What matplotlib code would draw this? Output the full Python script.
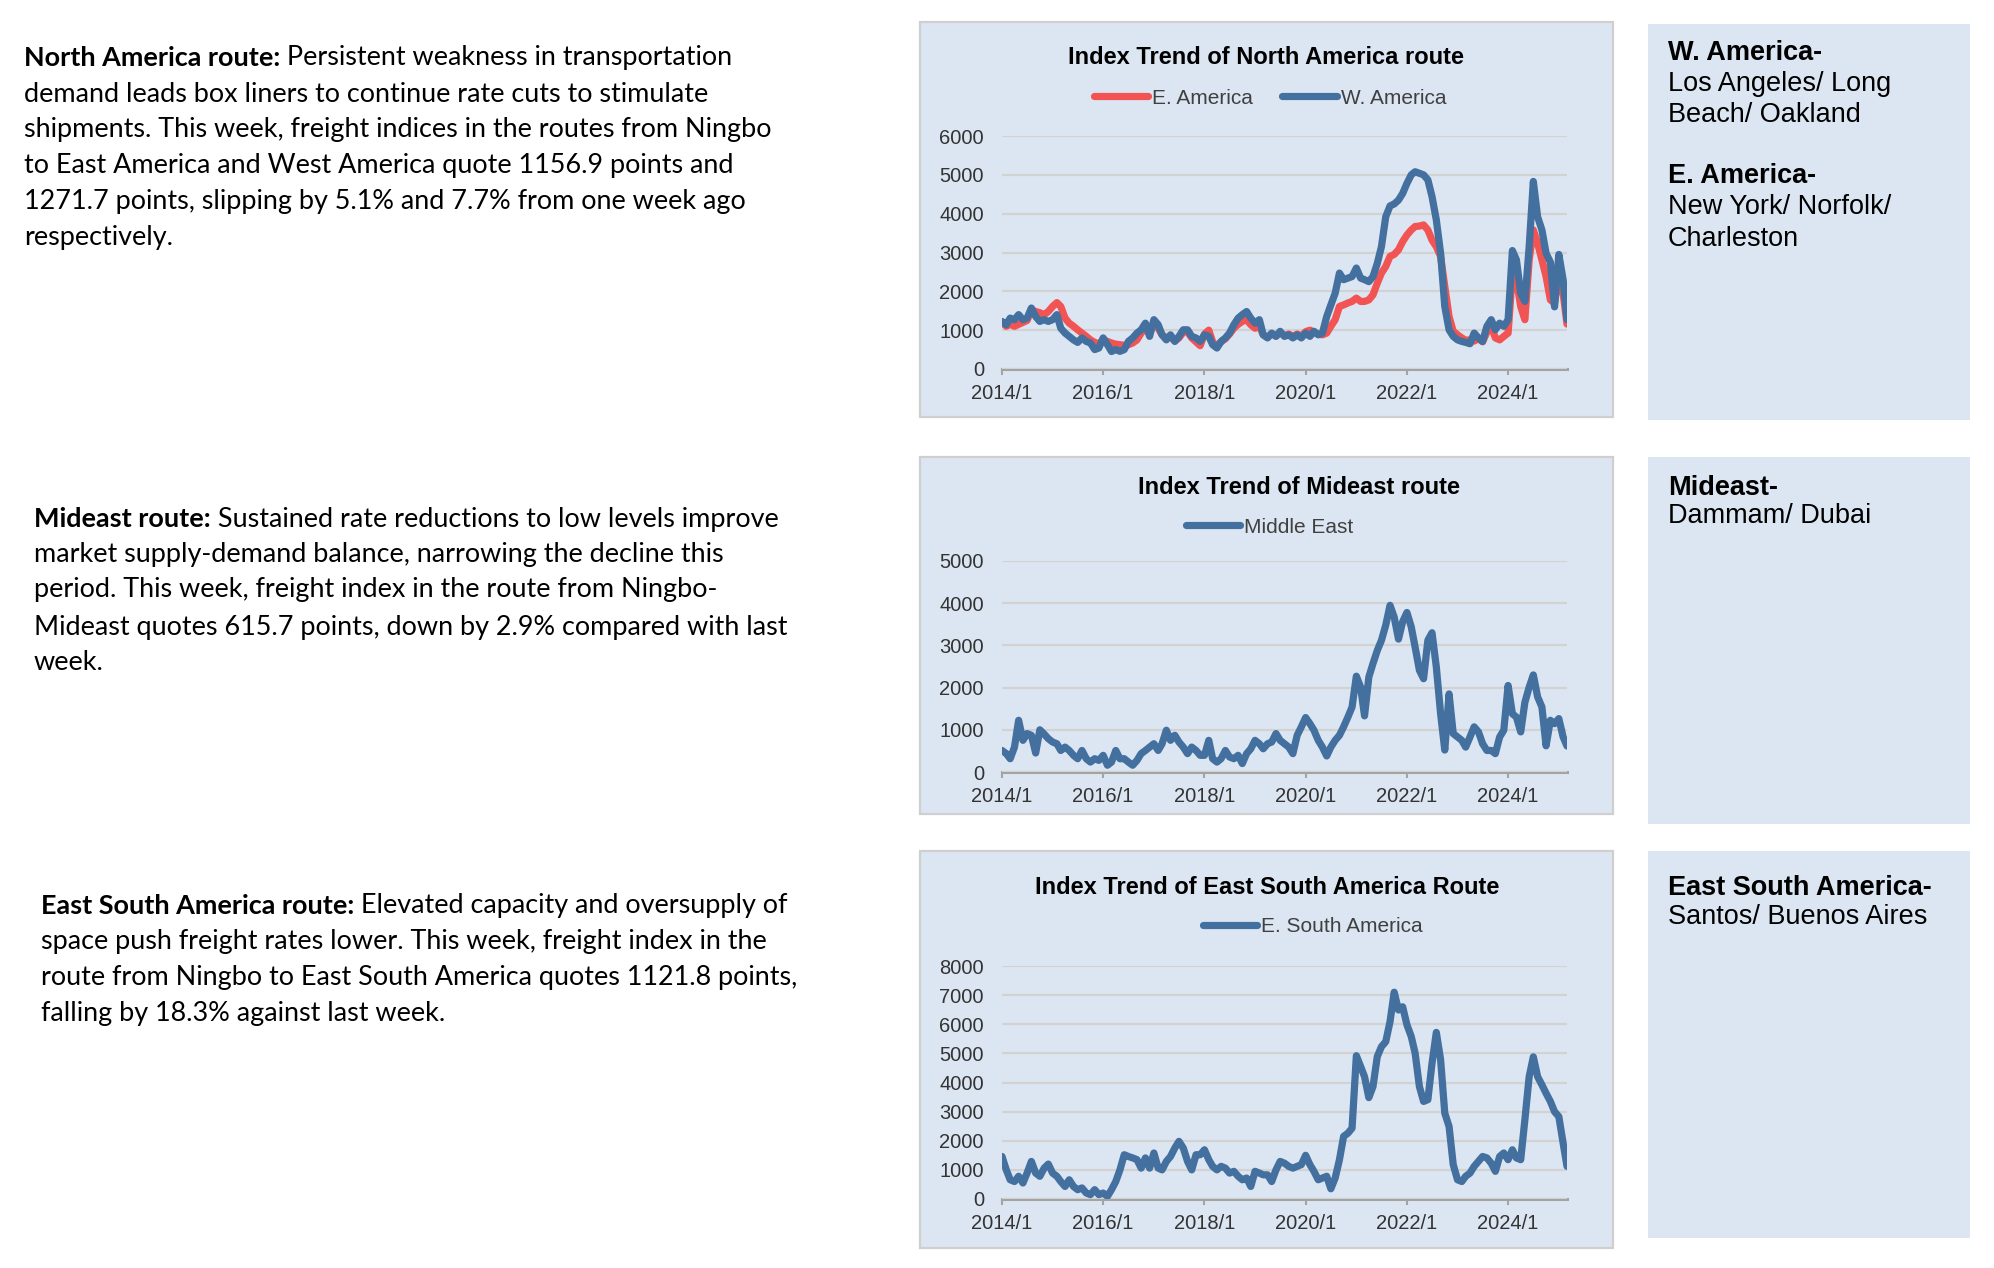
import numpy as np
import pandas as pd
import matplotlib
matplotlib.use("Agg")
import matplotlib.pyplot as plt
from matplotlib.patches import Rectangle

# ---------------- data ----------------
start_month = "2014-01-01"
tick_years = [2014, 2016, 2018, 2020, 2022, 2024]
tick_labels = ["2014/1", "2016/1", "2018/1", "2020/1", "2022/1", "2024/1"]

east_america = [
    1200, 1100, 1150, 1100, 1150, 1200, 1250, 1520, 1480, 1450, 1400, 1480,
    1610, 1710, 1610, 1310, 1180, 1100, 1010, 925, 840, 750, 685, 650,
    750, 710, 670, 640, 625, 610, 625, 670, 750, 925, 1050, 925,
    1180, 1050, 880, 800, 840, 720, 800, 950, 950, 800, 700, 600,
    900, 1000, 700, 580, 700, 780, 900, 1050, 1150, 1225, 1270, 1140,
    1050, 1100, 880, 820, 900, 850, 930, 860, 900, 840, 900, 850,
    960, 1000, 950, 900, 880, 925, 1100, 1270, 1610, 1650, 1700, 1740,
    1825, 1740, 1740, 1780, 1910, 2210, 2470, 2640, 2900, 2950, 3070, 3280,
    3450, 3580, 3670, 3680, 3710, 3580, 3320, 3150, 2900, 2125, 1350, 970,
    880, 800, 740, 750, 720, 780, 700, 950, 1100, 800, 750, 840,
    925, 2470, 2300, 1610, 1270, 2810, 3580, 3240, 2810, 2380, 1780, 1700,
    2380, 1950, 1157,
]
west_america = [
    1225, 1140, 1310, 1270, 1400, 1270, 1310, 1570, 1350, 1225, 1270, 1225,
    1270, 1400, 1050, 925, 840, 750, 685, 800, 710, 670, 500, 540,
    800, 625, 450, 500, 455, 500, 710, 800, 925, 1010, 1180, 840,
    1270, 1140, 880, 750, 880, 710, 840, 1010, 1010, 840, 800, 710,
    880, 840, 625, 540, 710, 800, 925, 1140, 1310, 1400, 1480, 1310,
    1180, 1270, 880, 800, 925, 840, 970, 840, 880, 800, 880, 800,
    925, 840, 970, 880, 925, 1350, 1650, 1950, 2470, 2300, 2340, 2380,
    2600, 2340, 2300, 2250, 2380, 2720, 3150, 3920, 4200, 4250, 4350, 4520,
    4780, 5000, 5080, 5040, 5000, 4870, 4440, 3840, 2980, 1610, 1010, 840,
    750, 710, 685, 650, 925, 800, 710, 1100, 1270, 1010, 1180, 1100,
    1270, 3050, 2810, 1950, 1740, 3150, 4830, 3920, 3580, 2980, 2750, 1600,
    2950, 2300, 1272,
]
middle_east = [
    510, 435, 315, 590, 1225, 750, 910, 870, 450, 1000, 900, 790,
    710, 670, 510, 590, 510, 395, 315, 510, 315, 235, 315, 275,
    395, 160, 235, 510, 315, 315, 235, 160, 275, 435, 510, 590,
    670, 510, 670, 990, 750, 870, 710, 590, 435, 590, 510, 395,
    395, 750, 315, 235, 315, 510, 355, 315, 395, 200, 435, 550,
    750, 670, 550, 670, 710, 910, 750, 670, 590, 435, 870, 1070,
    1290, 1145, 990, 750, 590, 380, 590, 750, 870, 1070, 1300, 1540,
    2270, 2010, 1330, 2250, 2570, 2880, 3120, 3480, 3950, 3670, 3150, 3560,
    3780, 3440, 2960, 2410, 2210, 3120, 3300, 2490, 1380, 520, 1850, 910,
    830, 750, 590, 830, 1070, 950, 670, 510, 510, 435, 830, 990,
    2050, 1380, 1300, 950, 1650, 2010, 2300, 1780, 1540, 620, 1225, 1145,
    1265, 830, 616,
]
east_south_america = [
    1460, 1000, 660, 600, 780, 550, 890, 1290, 890, 780, 1060, 1200,
    890, 780, 600, 430, 660, 430, 320, 380, 205, 150, 320, 150,
    205, 90, 320, 600, 1000, 1520, 1460, 1410, 1350, 1060, 1410, 1060,
    1580, 1060, 1000, 1290, 1460, 1750, 1980, 1750, 1290, 1000, 1520, 1520,
    1690, 1350, 1120, 1000, 1120, 1060, 890, 950, 780, 660, 720, 430,
    950, 890, 830, 830, 600, 1000, 1290, 1230, 1120, 1060, 1120, 1180,
    1500, 1180, 950, 660, 720, 780, 350, 720, 1350, 2150, 2260, 2430,
    4920, 4550, 4200, 3480, 3860, 4890, 5230, 5400, 6090, 7100, 6490, 6600,
    5980, 5580, 5010, 3860, 3350, 3410, 4660, 5720, 4780, 2950, 2490, 1180,
    660, 600, 780, 890, 1120, 1290, 1460, 1410, 1230, 950, 1460, 1580,
    1350, 1690, 1410, 1350, 2720, 4200, 4880, 4200, 3920, 3630, 3350, 3000,
    2830, 1920, 1122,
]

dates = pd.date_range(start_month, periods=len(west_america), freq="MS")

# ---------------- layout helpers ----------------
W, H, DPI = 1994, 1268, 100
fig = plt.figure(figsize=(W / DPI, H / DPI), dpi=DPI, facecolor="white")

def fx(px):
    return px / W

def fy(py):
    return 1 - py / H

PANEL = "#DCE6F2"
BLUE = "#44709F"
RED = "#F25353"
SANS = ["Liberation Sans", "DejaVu Sans"]
BODY = ["Lato", "DejaVu Sans"]

def rect(x0, y0, x1, y1, edge=None):
    r = Rectangle((fx(x0), fy(y1)), fx(x1) - fx(x0), fy(y0) - fy(y1),
                  transform=fig.transFigure, facecolor=PANEL,
                  edgecolor=edge if edge else "none", lw=1.6 if edge else 0,
                  zorder=-5)
    fig.patches.append(r)

# chart panels
for (y0, y1) in [(22, 417), (457, 814), (851, 1248)]:
    rect(920, y0, 1613, y1, edge="#CFCFCF")
# right info panels
for (y0, y1) in [(24, 420), (457, 824), (851, 1238)]:
    rect(1648, y0, 1970, y1)

def make_axes(top_px, bot_px, ymax, step):
    ax = fig.add_axes([fx(1002), fy(bot_px), (1567 - 1002) / W,
                       (bot_px - top_px) / H])
    ax.set_facecolor("none")
    ax.set_zorder(2)
    ax.set_ylim(0, ymax)
    ax.set_yticks(np.arange(0, ymax + 1, step))
    ax.yaxis.grid(True, color="#D2D2D2", lw=1.6)
    ax.set_axisbelow(True)
    for s in ["top", "left", "right"]:
        ax.spines[s].set_visible(False)
    ax.spines["bottom"].set_color("#A3A3A3")
    ax.spines["bottom"].set_linewidth(2.2)
    ax.spines["bottom"].set_zorder(0.5)
    ax.tick_params(axis="y", length=0, pad=13, labelsize=14.5,
                   labelcolor="#333333")
    ax.tick_params(axis="x", length=4.5, width=1.5, color="#A3A3A3",
                   pad=6, labelsize=14.5, labelcolor="#333333")
    return ax

def finish_x(ax):
    ax.set_xlim(dates[0], dates[-1])
    ax.set_xticks([pd.Timestamp(f"{y}-01-01") for y in tick_years])
    ax.set_xticklabels(tick_labels)
    for lab in ax.get_xticklabels() + ax.get_yticklabels():
        lab.set_family(SANS)

LW = 5.2

def legend(ax, handles, x_px, y_px, ncol):
    leg = ax.legend(handles=handles, loc="center left",
                    bbox_to_anchor=(fx(x_px), fy(y_px)),
                    bbox_transform=fig.transFigure, ncol=ncol, frameon=False,
                    handlelength=2.6, handletextpad=0.2,
                    columnspacing=1.4, borderpad=0, borderaxespad=0,
                    prop={"family": SANS, "size": 15})
    for t in leg.get_texts():
        t.set_color("#404040")

TS = 17

# ---- chart 1: North America ----
ax1 = make_axes(136, 369, 6000, 1000)
l_e, = ax1.plot(dates, east_america, color=RED, lw=LW, label="E. America",
                solid_joinstyle="round", solid_capstyle="round")
l_w, = ax1.plot(dates, west_america, color=BLUE, lw=LW, label="W. America",
                solid_joinstyle="round", solid_capstyle="round")
finish_x(ax1)
legend(ax1, [l_e, l_w], 1094, 98, 2)
fig.text(fx(1266), fy(57), "Index Trend of North America route", ha="center",
         va="center", fontsize=TS, fontweight="bold", family=SANS)

# ---- chart 2: Mideast ----
ax2 = make_axes(561, 772, 5000, 1000)
l_m, = ax2.plot(dates, middle_east, color=BLUE, lw=LW, label="Middle East",
                solid_joinstyle="round", solid_capstyle="round")
finish_x(ax2)
legend(ax2, [l_m], 1186, 527, 1)
fig.text(fx(1299), fy(487), "Index Trend of Mideast route", ha="center",
         va="center", fontsize=TS, fontweight="bold", family=SANS)

# ---- chart 3: East South America ----
ax3 = make_axes(966, 1199, 8000, 1000)
l_s, = ax3.plot(dates, east_south_america, color=BLUE, lw=LW,
                label="E. South America", solid_joinstyle="round",
                solid_capstyle="round")
finish_x(ax3)
legend(ax3, [l_s], 1203, 927, 1)
fig.text(fx(1267), fy(887), "Index Trend of East South America Route",
         ha="center", va="center", fontsize=TS, fontweight="bold",
         family=SANS)

# ---------------- right panel texts ----------------
RP = 19.5
right_lines = [
    (53, "W. America-", True), (84, "Los Angeles/ Long", False),
    (115, "Beach/ Oakland", False), (176, "E. America-", True),
    (207, "New York/ Norfolk/", False), (239, "Charleston", False),
    (488, "Mideast-", True), (516, "Dammam/ Dubai", False),
    (888, "East South America-", True), (917, "Santos/ Buenos Aires", False),
]
for y, txt, b in right_lines:
    fig.text(fx(1668), fy(y), txt, ha="left", va="center", fontsize=RP,
             fontweight="bold" if b else "normal", family=SANS, color="black")

# ---------------- left paragraphs ----------------
renderer = fig.canvas.get_renderer()
probe = fig.text(0, 0, "shipments. This week, freight indices in the routes from Ningbo",
                 fontsize=20, family=BODY)
pw = probe.get_window_extent(renderer).width
probe.remove()
BS = 20 * 752 / pw

def paragraph(x, ys, bold, lines):
    first = fig.text(fx(x), fy(ys[0]), bold, ha="left", va="center",
                     fontsize=BS, fontweight="bold", family=BODY)
    bw = first.get_window_extent(renderer).width
    fig.text(fx(x + bw), fy(ys[0]), " " + lines[0], ha="left", va="center",
             fontsize=BS, family=BODY)
    for y, t in zip(ys[1:], lines[1:]):
        fig.text(fx(x), fy(y), t, ha="left", va="center", fontsize=BS,
                 family=BODY)

paragraph(24, [58, 94, 130, 165, 201, 237], "North America route:", [
    "Persistent weakness in transportation",
    "demand leads box liners to continue rate cuts to stimulate",
    "shipments. This week, freight indices in the routes from Ningbo",
    "to East America and West America quote 1156.9 points and",
    "1271.7 points, slipping by 5.1% and 7.7% from one week ago",
    "respectively.",
])
paragraph(34, [519, 555, 590, 627, 663], "Mideast route:", [
    "Sustained rate reductions to low levels improve",
    "market supply-demand balance, narrowing the decline this",
    "period. This week, freight index in the route from Ningbo-",
    "Mideast quotes 615.7 points, down by 2.9% compared with last",
    "week.",
])
paragraph(41, [906, 941, 977, 1014], "East South America route:", [
    "Elevated capacity and oversupply of",
    "space push freight rates lower. This week, freight index in the",
    "route from Ningbo to East South America quotes 1121.8 points,",
    "falling by 18.3% against last week.",
])

fig.savefig("out.png", dpi=DPI, facecolor="white")
